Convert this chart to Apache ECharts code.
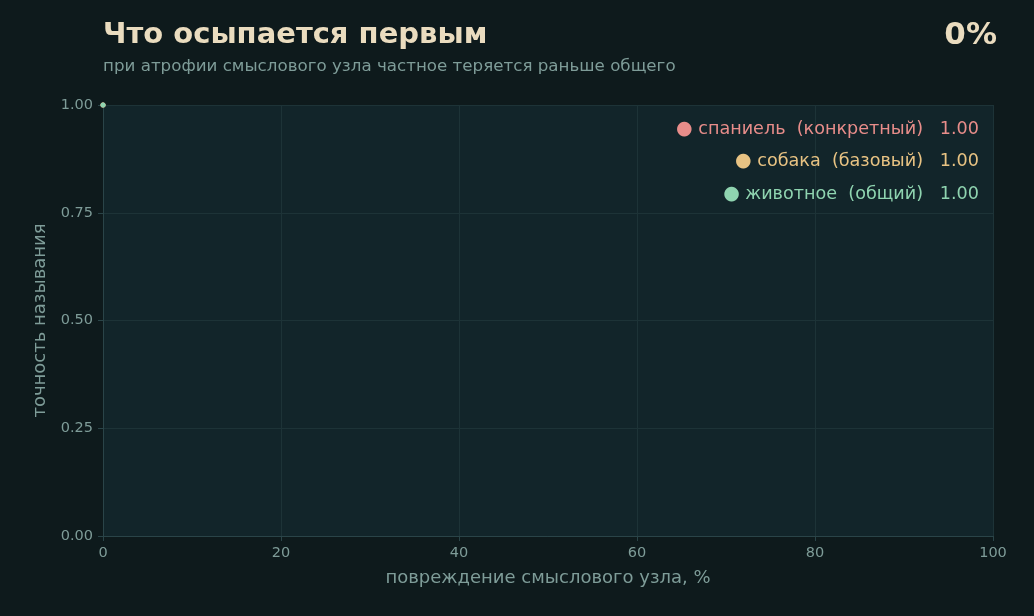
<!DOCTYPE html>
<html><head><meta charset="utf-8">
<script src="https://cdn.jsdelivr.net/npm/echarts@6/dist/echarts.min.js"></script>
<style>html,body{margin:0;padding:0;background:#0e1a1c;}#c{width:1034px;height:616px;}</style>
</head><body><div id="c"></div>
<script>
var seriesNames = ['спаниель  (конкретный)', 'собака  (базовый)', 'животное  (общий)'];
var seriesColors = ['#e88d8a', '#e8c383', '#8fd4b0'];
var spanielData = [[0, 1.00]];
var dogData = [[0, 1.00]];
var animalData = [[0, 1.00]];
var currentValues = [1.00, 1.00, 1.00];
var progressLabel = '0%';
var xTicks = [0, 20, 40, 60, 80, 100];

var chart = echarts.init(document.getElementById('c'));
var font = 'DejaVu Sans';
var allData = [spanielData, dogData, animalData];
var series = allData.map(function (d, i) {
  return {
    type: 'line', name: seriesNames[i], data: d, animation: false,
    symbol: 'circle', symbolSize: 5, showSymbol: true,
    lineStyle: { color: seriesColors[i], width: 2.5 },
    itemStyle: { color: seriesColors[i] }
  };
});
var legendTexts = seriesNames.map(function (n, i) {
  return {
    type: 'text', right: 55, top: 119.5 + i * 32.5, z: 10,
    style: {
      text: '{d|●} ' + n + '   ' + currentValues[i].toFixed(2),
      fill: seriesColors[i], font: '17.6px "' + font + '"',
      rich: { d: { fontSize: 19, fill: seriesColors[i], fontFamily: font } }
    }
  };
});
chart.setOption({
  backgroundColor: '#0e1a1c',
  animation: false,
  textStyle: { fontFamily: font },
  grid: { left: 103, right: 41, top: 105, bottom: 80, show: true, backgroundColor: '#12252a', borderWidth: 0 },
  title: [
    { text: 'Что осыпается первым', left: 98, top: 16, textStyle: { color: '#eadcbf', fontSize: 29, fontWeight: 'bold', fontFamily: font } },
    { text: 'при атрофии смыслового узла частное теряется раньше общего', left: 98, top: 53, textStyle: { color: '#7e9c98', fontSize: 16.7, fontWeight: 'normal', fontFamily: font } },
    { text: progressLabel, right: 32, top: 15, textStyle: { color: '#eadcbf', fontSize: 31, fontWeight: 'bold', fontFamily: font } }
  ],
  xAxis: {
    type: 'value', min: 0, max: 100, interval: 20,
    name: 'повреждение смыслового узла, %', nameLocation: 'middle', nameGap: 33,
    nameTextStyle: { color: '#7e9c98', fontSize: 18 },
    axisLine: { show: true, lineStyle: { color: '#2a4448' } },
    axisTick: { show: true, length: 5, lineStyle: { color: '#2a4448' } },
    axisLabel: { color: '#7e9c98', fontSize: 14.5, margin: 10 },
    splitLine: { show: true, lineStyle: { color: '#1d3337' } }
  },
  yAxis: {
    type: 'value', min: 0, max: 1, interval: 0.25,
    name: 'точность называния', nameLocation: 'middle', nameGap: 49,
    nameTextStyle: { color: '#7e9c98', fontSize: 18 },
    axisLine: { show: true, lineStyle: { color: '#2a4448' } },
    axisTick: { show: true, length: 5, lineStyle: { color: '#2a4448' } },
    axisLabel: { color: '#7e9c98', fontSize: 14.5, margin: 10, formatter: function (v) { return v.toFixed(2); } },
    splitLine: { show: true, lineStyle: { color: '#1d3337' } }
  },
  graphic: legendTexts,
  series: series
});
</script></body></html>
